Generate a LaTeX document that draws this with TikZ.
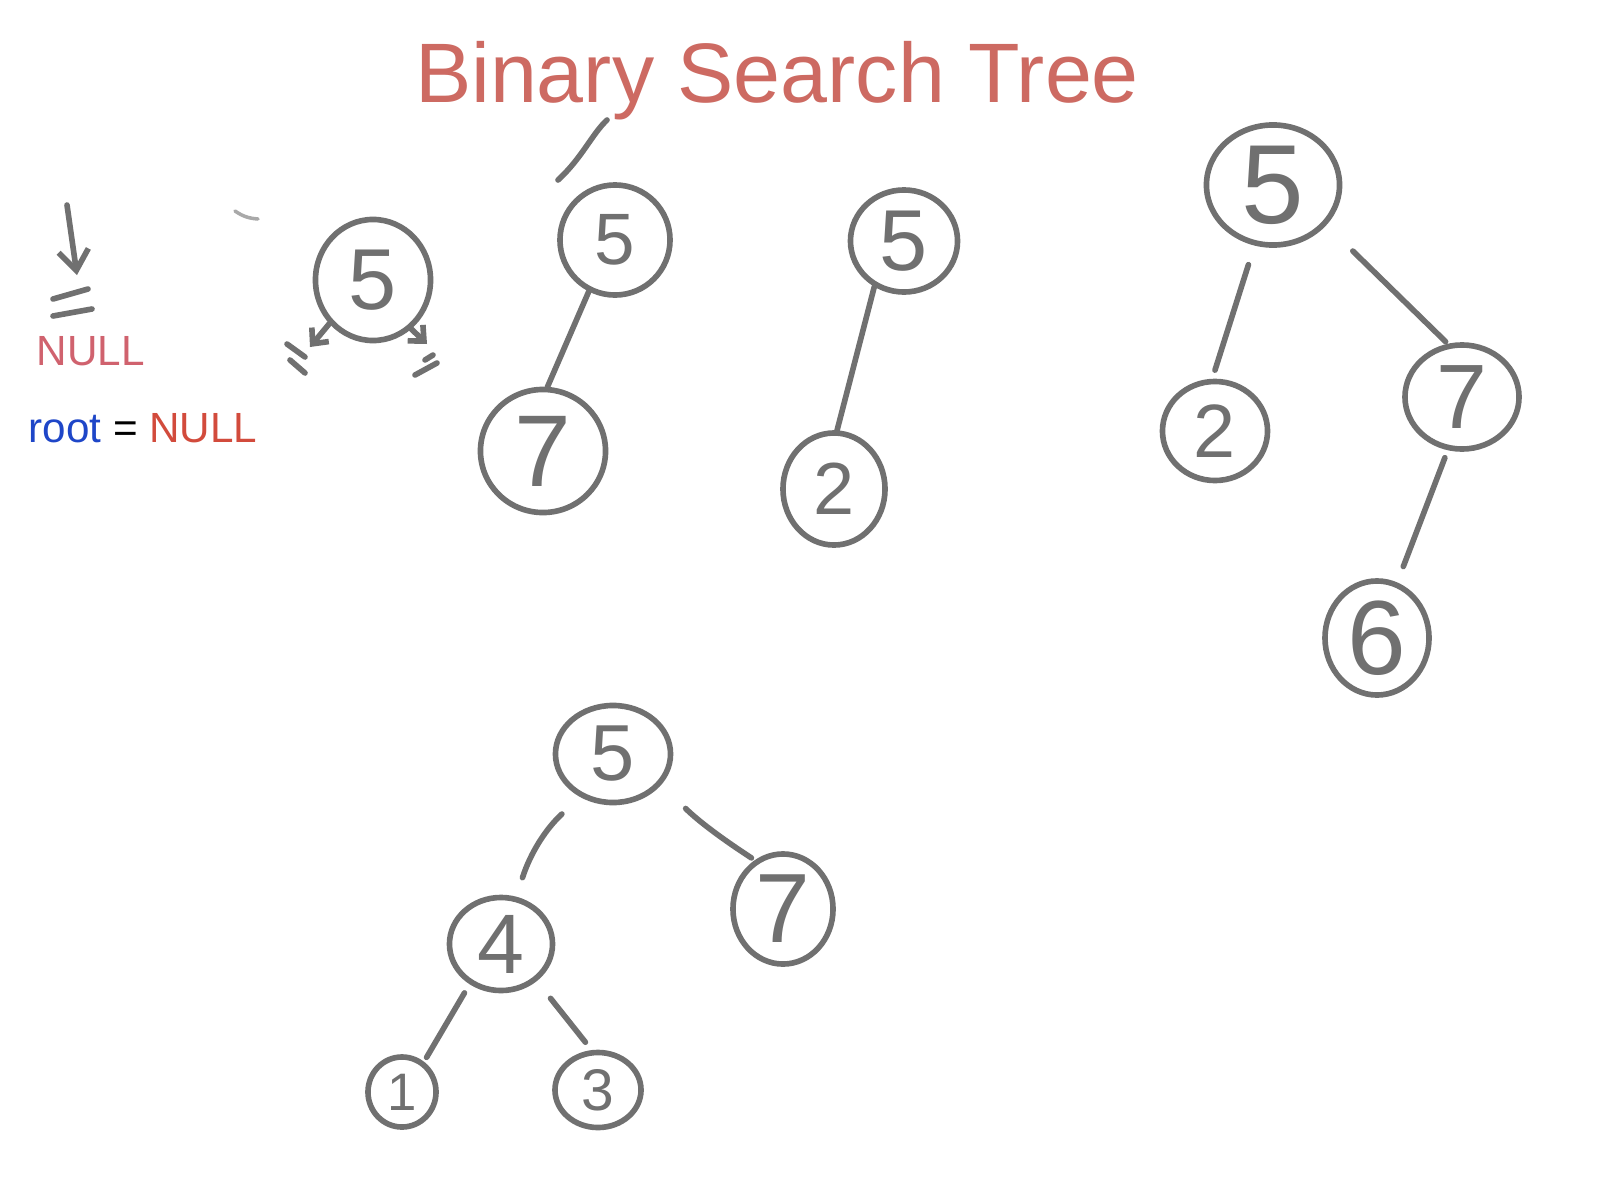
\documentclass[tikz,border=0pt]{standalone}
\usepackage{fontspec}
\setmainfont{Liberation Sans}
\usetikzlibrary{shapes.geometric,arrows.meta}
\definecolor{pen}{RGB}{112,112,112}
\definecolor{titlec}{RGB}{205,106,98}
\definecolor{nullpink}{RGB}{208,98,110}
\definecolor{nullred}{RGB}{210,75,60}
\definecolor{rootblue}{RGB}{30,70,200}
\begin{document}
\begin{tikzpicture}[x=0.01cm,y=-0.01cm,
  bnode/.style={draw=pen, ellipse, line width=1.6pt, inner sep=0pt, text=pen},
  sz/.style 2 args={minimum width=#1, minimum height=#2},
  fs/.style={font=\fontsize{#1}{#1}\selectfont},
  edge/.style={draw=pen, line width=1.6pt, line cap=round},
  penstroke/.style={draw=pen, line width=1.6pt, line cap=round},
  barb/.style={-{Straight Barb[length=0.2cm,width=0.3cm]}},
  sbarb/.style={-{Straight Barb[length=0.12cm,width=0.22cm]}},
  txtlabel/.style={inner sep=0pt, anchor=base west, font=\fontsize{12}{14}\selectfont}
]
\path[fill=white] (0,0) rectangle (1600,1200);
\useasboundingbox (0,0) rectangle (1600,1200);

% title
\node[inner sep=0pt, anchor=base, text=titlec, font=\fontsize{24}{28}\selectfont] (title) at (777,102) {Binary Search Tree};

% NULL pointer
\coordinate (tl1) at (67,205);
\coordinate (tl2) at (77,275);
\draw[edge, barb] (tl1) -- (tl2);
\draw[penstroke] (53,299) -- (88,289);
\draw[penstroke] (53,316) -- (92,309);
\node[txtlabel, text=nullpink] (null1) at (36,365) {NULL};
\node[txtlabel] (rootl) at (28,442) {\textcolor{rootblue}{root} = \textcolor{nullred}{NULL}};

% stray mark
\draw[pen!60, line width=1pt, line cap=round] (235,211) to[bend right=15] (258,219);

% single node with NULL children
\node[bnode, sz={1.15cm}{1.21cm}, fs=24.6] (S5) at (373,280) {5};
\coordinate (sl) at (310,347);
\coordinate (sr) at (427,344);
\draw[edge, sbarb] (S5.-135) -- (sl);
\draw[edge, sbarb] (S5.-52) -- (sr);
\draw[penstroke] (287,344) -- (305,357);
\draw[penstroke] (290,360) -- (305,373);
\draw[penstroke] (433,355) -- (425,360);
\draw[penstroke] (437,363) -- (415,375);

% tree 5 -> 7
\coordinate (pa1) at (607,120);
\coordinate (pa2) at (558,180);
\draw[edge] (pa1) .. controls (592,134) and (582,158) .. (pa2);
\node[bnode, sz={1.10cm}{1.10cm}, fs=20.7] (A5) at (615,240) {5};
\node[bnode, sz={1.25cm}{1.23cm}, fs=29] (A7) at (543,451) {7};
\draw[edge] (A5.-117) -- (A7.86);

% tree 5 -> 2
\node[bnode, sz={1.07cm}{1.02cm}, fs=24.6] (B5) at (904,241) {5};
\node[bnode, sz={1.02cm}{1.12cm}, fs=21] (B2) at (834,489) {2};
\draw[edge] (B5.-123) -- (B2.87);

% right tree
\node[bnode, sz={1.33cm}{1.20cm}, fs=32] (C5) at (1273,185) {5};
\node[bnode, sz={1.05cm}{0.99cm}, fs=21.5] (C2) at (1215,431) {2};
\node[bnode, sz={1.14cm}{1.04cm}, fs=26] (C7) at (1462,397) {7};
\node[bnode, sz={1.04cm}{1.14cm}, fs=30] (C6) at (1377,638) {6};
\draw[edge, shorten <=0.2cm, shorten >=0.09cm] (C5.-107) -- (C2.93);
\draw[edge, shorten <=0.37cm, shorten >=0.03cm] (C5.-37) -- (C7.105);
\draw[edge, shorten <=0.08cm, shorten >=0.17cm] (C7.-105) -- (C6.70);

% bottom tree
\node[bnode, sz={1.15cm}{0.97cm}, fs=22.6] (D5) at (613,754) {5};
\node[bnode, sz={1.03cm}{0.93cm}, fs=24] (D4) at (501,944) {4};
\node[bnode, sz={1.00cm}{1.10cm}, fs=28] (D7) at (783,909) {7};
\node[bnode, sz={0.68cm}{0.70cm}, fs=15] (D1) at (402,1092) {1};
\node[bnode, sz={0.86cm}{0.75cm}, fs=16.7] (D3) at (598,1090) {3};
\draw[edge, shorten <=0.25cm, shorten >=0.2cm] (D5.-127) to[bend right=15] (D4.72);
\draw[edge, shorten <=0.34cm, shorten >=0.04cm] (D5.-32) to[bend right=6] (D7.120);
\draw[edge, shorten <=0.1cm, shorten >=0.05cm] (D4.-128) -- (D1.54);
\draw[edge, shorten <=0.22cm, shorten >=0.1cm] (D4.-46) -- (D3.99);
\end{tikzpicture}
\end{document}
